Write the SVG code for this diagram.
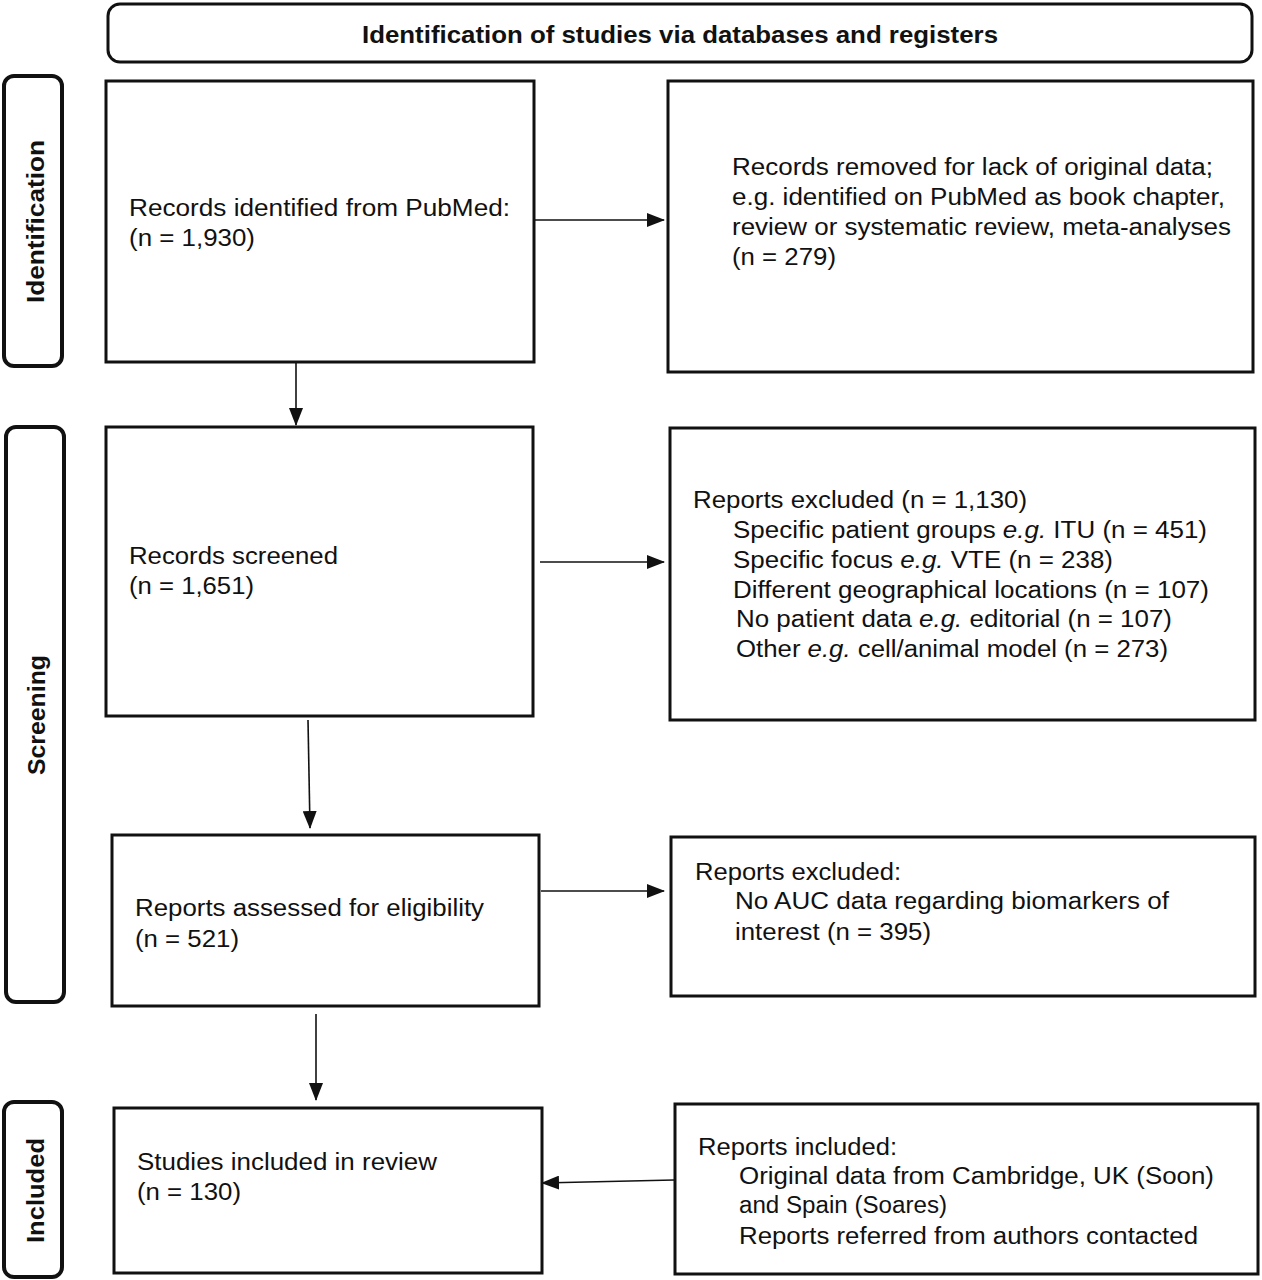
<svg xmlns="http://www.w3.org/2000/svg" width="1262" height="1280" viewBox="0 0 1262 1280">
<defs>
<style>
.box{fill:#fff;stroke:#111;stroke-width:3}
.lbl{fill:#fff;stroke:#111;stroke-width:4}
.t{font-family:"Liberation Sans",Arial,sans-serif;font-size:23px;fill:#111}
.tb{font-family:"Liberation Sans",Arial,sans-serif;font-size:23px;font-weight:bold;fill:#111}
.c{stroke:#111;stroke-width:1.6;fill:none}
</style>
<marker id="ah" viewBox="0 0 18 14" refX="17" refY="7" markerWidth="18" markerHeight="14" markerUnits="userSpaceOnUse" orient="auto">
<path d="M0,0 L18,7 L0,14 Z" fill="#111"/>
</marker>
</defs>
<rect width="1262" height="1280" fill="#fff"/>

<g id="title">
<rect class="box" x="108" y="4" width="1144" height="58" rx="12" stroke-width="3.5"/>
<text class="tb" x="362" y="43" textLength="636" lengthAdjust="spacingAndGlyphs">Identification of studies via databases and registers</text>
</g>

<g id="label-identification">
<rect class="lbl" x="4" y="76" width="58" height="290" rx="10"/>
<text class="tb" transform="translate(44,303) rotate(-90)" x="0" y="0" textLength="163" lengthAdjust="spacingAndGlyphs">Identification</text>
</g>
<g id="label-screening">
<rect class="lbl" x="6" y="427" width="58" height="575" rx="10"/>
<text class="tb" transform="translate(45,775) rotate(-90)" x="0" y="0" textLength="120" lengthAdjust="spacingAndGlyphs">Screening</text>
</g>
<g id="label-included">
<rect class="lbl" x="4" y="1102" width="58" height="175" rx="10"/>
<text class="tb" transform="translate(44,1243) rotate(-90)" x="0" y="0" textLength="105" lengthAdjust="spacingAndGlyphs">Included</text>
</g>

<g id="records-identified">
<rect class="box" x="106" y="81" width="428" height="281"/>
<text class="t" x="129" y="216" textLength="381" lengthAdjust="spacingAndGlyphs">Records identified from PubMed:</text>
<text class="t" x="129" y="246" textLength="126" lengthAdjust="spacingAndGlyphs">(n = 1,930)</text>
</g>

<g id="records-removed">
<rect class="box" x="668" y="81" width="585" height="291"/>
<text class="t" x="732" y="175" textLength="481" lengthAdjust="spacingAndGlyphs">Records removed for lack of original data;</text>
<text class="t" x="732" y="205" textLength="493" lengthAdjust="spacingAndGlyphs">e.g. identified on PubMed as book chapter,</text>
<text class="t" x="732" y="235" textLength="499" lengthAdjust="spacingAndGlyphs">review or systematic review, meta-analyses</text>
<text class="t" x="732" y="265" textLength="104" lengthAdjust="spacingAndGlyphs">(n = 279)</text>
</g>

<g id="records-screened">
<rect class="box" x="106" y="427" width="427" height="289"/>
<text class="t" x="129" y="564" textLength="209" lengthAdjust="spacingAndGlyphs">Records screened</text>
<text class="t" x="129" y="594" textLength="125" lengthAdjust="spacingAndGlyphs">(n = 1,651)</text>
</g>

<g id="reports-excluded-1">
<rect class="box" x="670" y="428" width="585" height="292"/>
<text class="t" x="693" y="508" textLength="334" lengthAdjust="spacingAndGlyphs">Reports excluded (n = 1,130)</text>
<text class="t" x="733" y="538" textLength="474" lengthAdjust="spacingAndGlyphs">Specific patient groups <tspan font-style="italic">e.g.</tspan> ITU (n = 451)</text>
<text class="t" x="733" y="568" textLength="380" lengthAdjust="spacingAndGlyphs">Specific focus <tspan font-style="italic">e.g.</tspan> VTE (n = 238)</text>
<text class="t" x="733" y="598" textLength="476" lengthAdjust="spacingAndGlyphs">Different geographical locations (n = 107)</text>
<text class="t" x="736" y="627" textLength="436" lengthAdjust="spacingAndGlyphs">No patient data <tspan font-style="italic">e.g.</tspan> editorial (n = 107)</text>
<text class="t" x="736" y="657" textLength="432" lengthAdjust="spacingAndGlyphs">Other <tspan font-style="italic">e.g.</tspan> cell/animal model (n = 273)</text>
</g>

<g id="reports-assessed">
<rect class="box" x="112" y="835" width="427" height="171"/>
<text class="t" x="135" y="916" textLength="349" lengthAdjust="spacingAndGlyphs">Reports assessed for eligibility</text>
<text class="t" x="135" y="947" textLength="104" lengthAdjust="spacingAndGlyphs">(n = 521)</text>
</g>

<g id="reports-excluded-2">
<rect class="box" x="671" y="837" width="584" height="159"/>
<text class="t" x="695" y="880" textLength="206" lengthAdjust="spacingAndGlyphs">Reports excluded:</text>
<text class="t" x="735" y="909" textLength="434" lengthAdjust="spacingAndGlyphs">No AUC data regarding biomarkers of</text>
<text class="t" x="735" y="940" textLength="196" lengthAdjust="spacingAndGlyphs">interest (n = 395)</text>
</g>

<g id="studies-included">
<rect class="box" x="114" y="1108" width="428" height="165"/>
<text class="t" x="137" y="1170" textLength="300" lengthAdjust="spacingAndGlyphs">Studies included in review</text>
<text class="t" x="137" y="1200" textLength="104" lengthAdjust="spacingAndGlyphs">(n = 130)</text>
</g>

<g id="reports-included">
<rect class="box" x="675" y="1104" width="583" height="170"/>
<text class="t" x="698" y="1155" textLength="199" lengthAdjust="spacingAndGlyphs">Reports included:</text>
<text class="t" x="739" y="1184" textLength="475" lengthAdjust="spacingAndGlyphs">Original data from Cambridge, UK (Soon)</text>
<text class="t" x="739" y="1213" textLength="208" lengthAdjust="spacingAndGlyphs">and Spain (Soares)</text>
<text class="t" x="739" y="1244" textLength="459" lengthAdjust="spacingAndGlyphs">Reports referred from authors contacted</text>
</g>

<g id="connectors">
<line class="c" x1="535" y1="220" x2="664" y2="220" marker-end="url(#ah)"/>
<line class="c" x1="296" y1="363" x2="296" y2="425" marker-end="url(#ah)"/>
<line class="c" x1="540" y1="562" x2="664" y2="562" marker-end="url(#ah)"/>
<line class="c" x1="308" y1="720" x2="310" y2="828" marker-end="url(#ah)"/>
<line class="c" x1="541" y1="891" x2="664" y2="891" marker-end="url(#ah)"/>
<line class="c" x1="316" y1="1014" x2="316" y2="1100" marker-end="url(#ah)"/>
<line class="c" x1="674" y1="1180" x2="542" y2="1183" marker-end="url(#ah)"/>
</g>
</svg>
